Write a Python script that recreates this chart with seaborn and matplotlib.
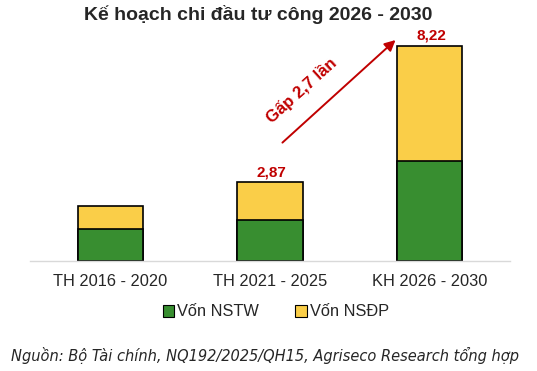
import numpy as np
import pandas as pd
import matplotlib
matplotlib.use('Agg')
import matplotlib.pyplot as plt
from matplotlib.patches import Patch
import seaborn as sns

# data (triệu tỷ đồng)
periods = ['TH 2016 - 2020', 'TH 2021 - 2025', 'KH 2026 - 2030']
von_nstw = [1.23, 1.56, 3.81]
von_nsdp = [0.88, 1.46, 4.41]
total_labels = ['', '2,87', '8,22']
series_names = ['Vốn NSTW', 'Vốn NSĐP']

green = '#388E30'
yellow = '#FACE48'
red = '#C00000'

sns.set_style('white')
plt.rcParams['font.family'] = ['Liberation Sans', 'DejaVu Sans']

df = pd.DataFrame({'period': periods, 'nstw': von_nstw, 'nsdp': von_nsdp})
df['total'] = df['nstw'] + df['nsdp']

fig = plt.figure(figsize=(5.37, 3.71), dpi=100)
ax = fig.add_axes([30 / 537, (371 - 261.3) / 371, 480 / 537, 226 / 371])

# stacked bars: draw totals (yellow) then the green part on top
sns.barplot(data=df, x='period', y='total', color=yellow, saturation=1,
            edgecolor='black', linewidth=1.2, width=0.41, ax=ax)
sns.barplot(data=df, x='period', y='nstw', color=green, saturation=1,
            edgecolor='black', linewidth=1.2, width=0.41, ax=ax)

ax.set_xlim(-0.505, 2.505)
ax.set_ylim(0, 226 / 26.25)
ax.set_xlabel('')
ax.set_ylabel('')
ax.set_yticks([])
for s in ['top', 'right', 'left']:
    ax.spines[s].set_visible(False)
ax.spines['bottom'].set_color('#d9d9d9')
ax.spines['bottom'].set_linewidth(1.0)
ax.tick_params(axis='x', length=0, pad=9, labelsize=11.8)

# value labels
for i, lab in enumerate(total_labels):
    if lab:
        ax.text(i + 0.01, df['total'][i] + 0.1, lab, ha='center', va='bottom',
                color=red, fontsize=11, fontweight='bold')

# growth arrow
ax.annotate('', xy=(1.8, 8.5), xytext=(1.065, 4.45),
            arrowprops=dict(arrowstyle='-|>', color=red, lw=1.4,
                            mutation_scale=16))
ax.text(1.2, 6.5, 'Gấp 2,7 lần', color=red, fontsize=12, fontweight='bold',
        rotation=42, ha='center', va='center')

fig.text(258 / 537, 1 - 15 / 371, 'Kế hoạch chi đầu tư công 2026 - 2030',
         ha='center', va='center', fontsize=14, fontweight='bold')

handles = [Patch(facecolor=green, edgecolor='black', linewidth=0.8),
           Patch(facecolor=yellow, edgecolor='black', linewidth=0.8)]
fig.legend(handles, series_names, loc='center', ncol=2,
           bbox_to_anchor=(276 / 537, 1 - 312 / 371), frameon=False,
           fontsize=11.8, handlelength=0.7, handleheight=0.7,
           handletextpad=0.2, columnspacing=2.2)

fig.text(265 / 537, 1 - 355 / 371,
         'Nguồn: Bộ Tài chính, NQ192/2025/QH15, Agriseco Research tổng hợp',
         ha='center', va='center', fontsize=10.5, style='italic',
         family=['DejaVu Sans'])

fig.savefig('out.png', dpi=100)
